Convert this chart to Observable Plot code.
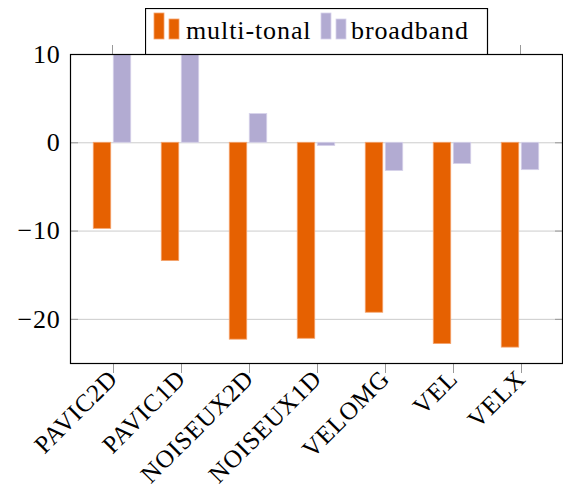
<!DOCTYPE html>
<html>
<head>
<meta charset="utf-8">
<script src="https://cdn.jsdelivr.net/npm/d3@7"></script>
<script src="https://cdn.jsdelivr.net/npm/@observablehq/plot@0.6"></script>
<style>
  body { margin: 0; background: white; }
  #wrap { position: relative; width: 563px; height: 494px; }
  #legend { position: absolute; left: 145px; top: 8px; }
</style>
</head>
<body>
<div id="wrap"></div>
<script>
// Method names along the x axis
const categories = ["PAVIC2D", "PAVIC1D", "NOISEUX2D", "NOISEUX1D", "VELOMG", "VEL", "VELX"];
// Values per method for each excitation type
const multiTonal = [-9.75, -13.4, -22.3, -22.2, -19.25, -22.8, -23.2];
const broadband = [10, 10, 3.25, -0.37, -3.2, -2.4, -3.1];
const seriesNames = ["multi-tonal", "broadband"];
const seriesColors = ["#e66101", "#b2abd2"];
const seriesEdges = ["#f4a46e", "#d6d2ea"];
const yTicks = [-20, -10, 0, 10];

const rows = categories.flatMap((c, i) => [
  {cat: c, series: seriesNames[0], value: multiTonal[i]},
  {cat: c, series: seriesNames[1], value: broadband[i]}
]);

const font = "'Liberation Serif', 'Times New Roman', serif";
const step = 492 / 7.18;

const chart = Plot.plot({
  width: 563,
  height: 494,
  marginLeft: 70,
  marginRight: 1,
  marginTop: 54,
  marginBottom: 131,
  style: {fontFamily: font, fontSize: "26px", letterSpacing: "0.8px", color: "black", background: "white"},
  x: {domain: categories, paddingInner: 0, paddingOuter: 0.09},
  y: {domain: [-25, 10]},
  color: {domain: seriesNames, range: seriesColors},
  marks: [
    Plot.ruleY(yTicks, {stroke: "#cccccc", strokeWidth: 1}),
    Plot.barY(rows.filter(d => d.series === seriesNames[0]), {
      x: "cat", y: "value", fill: "series", stroke: seriesEdges[0], strokeWidth: 0.8,
      insetLeft: step / 2 - 19, insetRight: step / 2 + 1, clip: true
    }),
    Plot.barY(rows.filter(d => d.series === seriesNames[1]), {
      x: "cat", y: "value", fill: "series", stroke: seriesEdges[1], strokeWidth: 0.8,
      insetLeft: step / 2 + 1, insetRight: step / 2 - 19, clip: true
    }),
    Plot.axisY(yTicks, {anchor: "left", tickSize: 0, tickPadding: 10, label: null}),
    Plot.axisY(yTicks, {anchor: "left", tickSize: -8, tickFormat: () => "", stroke: "#999", label: null}),
    Plot.axisY(yTicks, {anchor: "right", tickSize: -8, tickFormat: () => "", stroke: "#999", label: null}),
    Plot.axisX({anchor: "bottom", tickSize: 10, tickRotate: -45, tickPadding: 1, dx: 1, fontSize: 25, stroke: "#999", fill: "black", label: null}),
    Plot.axisX({anchor: "top", tickSize: 10, tickFormat: () => "", stroke: "#999", label: null}),
    Plot.frame({stroke: "black", strokeWidth: 1.2})
  ]
});

const wrap = document.getElementById("wrap");
wrap.appendChild(chart);

// Legend box overlapping the top edge of the frame
const legend = d3.create("svg")
  .attr("id", "legend")
  .attr("width", 344)
  .attr("height", 47);
legend.append("rect")
  .attr("x", 0.5).attr("y", 0.5).attr("width", 342).attr("height", 46)
  .attr("fill", "white").attr("stroke", "black").attr("stroke-width", 1.2);
const entryX = [9, 176];
seriesNames.forEach((name, i) => {
  const g = legend.append("g").attr("transform", `translate(${entryX[i]},0)`);
  g.append("rect").attr("x", 0).attr("y", 5).attr("width", 10).attr("height", 26)
    .attr("fill", seriesColors[i]).attr("stroke", seriesEdges[i]).attr("stroke-width", 0.8);
  g.append("rect").attr("x", 15).attr("y", 11).attr("width", 10).attr("height", 20)
    .attr("fill", seriesColors[i]).attr("stroke", seriesEdges[i]).attr("stroke-width", 0.8);
  g.append("text").attr("x", i === 0 ? 32 : 30).attr("y", 31)
    .attr("font-family", font).attr("font-size", 26).attr("letter-spacing", "0.9px").attr("fill", "black")
    .text(name);
});
wrap.appendChild(legend.node());
</script>
</body>
</html>
